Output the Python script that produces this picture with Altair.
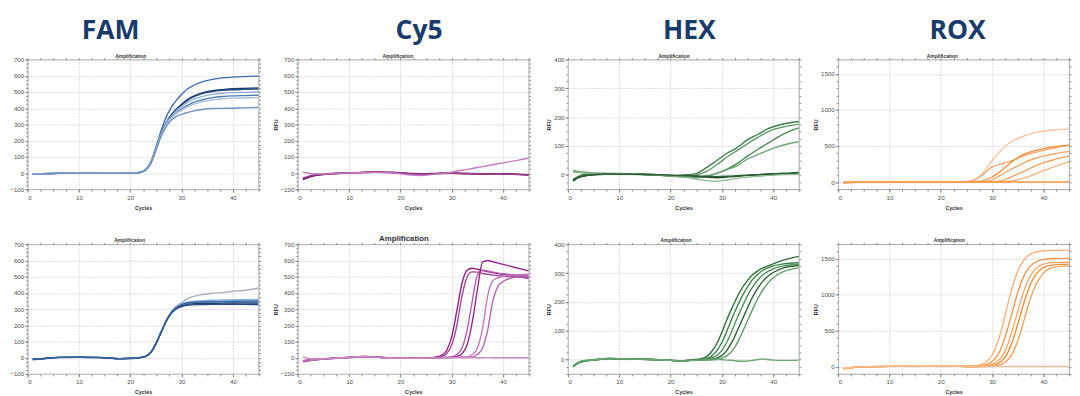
import altair as alt
import pandas as pd

# ---------------- data (RFU) ----------------
FAM_CYCLES = [1, 3, 6, 10, 14, 18, 21, 22, 23, 24, 25, 26, 27, 28, 29, 30, 31, 32, 34, 36, 38, 40, 42, 45]
FAM_TOP = [
    [-6, -4, -2, 0, 1, -2, 0, 6, 22, 70, 160, 260, 345, 405, 450, 485, 515, 535, 562, 578, 587, 592, 595, 598],
    [-8, -5, -2, 0, 2, -1, 1, 5, 20, 65, 150, 240, 310, 360, 395, 425, 450, 470, 495, 508, 515, 520, 522, 525],
    [-7, -4, -1, 1, 2, -2, 0, 5, 20, 62, 145, 235, 305, 355, 390, 420, 445, 465, 490, 503, 510, 514, 516, 518],
    [-5, -3, -1, 0, 1, -1, 1, 6, 22, 68, 150, 240, 305, 350, 385, 410, 432, 450, 472, 485, 492, 496, 498, 500],
    [-8, -5, -2, 0, 1, -2, 0, 4, 18, 60, 142, 230, 295, 340, 372, 395, 415, 432, 452, 465, 472, 476, 478, 480],
    [-6, -4, -2, 0, 1, -1, 0, 5, 20, 64, 148, 235, 298, 340, 368, 388, 405, 420, 440, 452, 458, 462, 463, 465],
    [-7, -5, -2, 0, 1, -2, 0, 5, 19, 60, 140, 225, 285, 325, 350, 362, 372, 380, 392, 398, 399, 400, 402, 405],
]
FAM_TOP_COLORS = ["#3d6ea8", "#1f3f73", "#24497f", "#8fb0d4", "#4f7bb3", "#a8c0dc", "#6f93c0"]

FAM_BOTTOM = [
    [-10, -5, 2, 3, 2, -5, -2, 2, 10, 35, 90, 160, 230, 285, 320, 340, 362, 375, 390, 398, 402, 410, 415, 430],
    [-8, -4, 3, 2, 1, -6, -3, 1, 9, 33, 88, 158, 228, 280, 312, 330, 342, 348, 352, 355, 356, 358, 358, 360],
    [-12, -6, 2, 3, 2, -5, -2, 2, 10, 34, 88, 157, 226, 278, 308, 325, 335, 340, 345, 347, 348, 350, 350, 352],
    [-10, -5, 2, 2, 1, -6, -3, 1, 8, 32, 85, 155, 225, 276, 305, 320, 328, 332, 335, 336, 337, 338, 338, 338],
    [-9, -5, 1, 3, 2, -5, -2, 1, 8, 32, 86, 156, 224, 274, 302, 316, 323, 326, 328, 329, 330, 330, 329, 328],
    [-11, -6, 2, 2, 1, -6, -3, 2, 9, 34, 87, 157, 227, 279, 310, 328, 338, 342, 344, 345, 345, 346, 345, 345],
]
FAM_BOTTOM_COLORS = ["#a9afc0", "#8db0d8", "#4f84c0", "#1d3f72", "#25487c", "#3a67a3"]

CY5_TOP_CYCLES = [1, 2, 3, 5, 8, 12, 15, 18, 20, 22, 24, 26, 28, 30, 33, 36, 40, 43, 45]
CY5_TOP = [
    [-40, -28, -18, -10, -3, 2, 5, 3, 0, -5, -8, -5, -2, 0, -3, -5, -5, -8, -10],
    [-35, -25, -15, -8, -2, 3, 6, 4, 2, -2, -5, -3, 0, -2, -5, -6, -4, -8, -12],
    [-30, -20, -12, -6, 0, 4, 8, 6, 3, -4, -10, -8, -3, -1, -2, -4, -6, -9, -12],
    [5, 0, -5, -6, -2, 2, 4, 2, -5, -12, -15, -10, -3, 6, 23, 40, 63, 80, 92],
]
CY5_TOP_COLORS = ["#6e145f", "#80186f", "#9a3a8e", "#c77ac0"]

CY5_BOTTOM_CYCLES = [1, 3, 6, 10, 13, 16, 20, 24, 26, 27, 28, 29, 30, 31, 32, 33, 34, 35, 36, 37, 38, 39, 40, 42, 45]
CY5_BOTTOM = [
    [-20, -12, -5, 2, 8, 3, -3, -2, 0, 5, 15, 45, 130, 290, 460, 540, 552, 546, 538, 532, 526, 520, 515, 505, 490],
    [-25, -14, -6, 1, 6, 2, -4, -3, -1, 2, 8, 25, 80, 200, 380, 500, 530, 528, 520, 515, 510, 506, 503, 500, 495],
    [-22, -13, -5, 2, 7, 2, -3, -4, -2, 0, 1, 3, 5, 20, 60, 170, 350, 510, 540, 535, 528, 522, 518, 512, 505],
    [-18, -10, -4, 3, 8, 3, -2, -3, -2, 0, 1, 2, 4, 8, 25, 80, 220, 420, 590, 600, 592, 584, 576, 560, 535],
    [-20, -12, -5, 2, 7, 2, -3, -3, -2, -1, 0, 1, 2, 3, 4, 5, 20, 60, 180, 380, 475, 492, 502, 510, 515],
    [-24, -14, -6, 1, 6, 2, -3, -3, -2, -1, 0, 0, 1, 2, 3, 4, 5, 20, 60, 170, 350, 440, 470, 495, 505],
    [5, -8, -5, 2, 6, 2, -3, -3, -2, -1, 0, 0, 0, 1, 0, 0, 1, 0, 0, 1, 0, 0, 0, 0, 0],
]
CY5_BOTTOM_COLORS = ["#8b1f80", "#a0439a", "#b55cae", "#92298a", "#c27abd", "#b466ad", "#c98bc4"]

HEX_TOP_CYCLES = [1, 2, 4, 7, 10, 14, 18, 21, 23, 25, 27, 29, 31, 33, 35, 37, 39, 41, 43, 45]
HEX_TOP = [
    [-20, -5, 3, 5, 4, 3, 0, -3, 0, 5, 25, 50, 75, 95, 122, 140, 160, 172, 180, 185],
    [15, 12, 8, 5, 5, 2, -2, -5, -3, 0, 12, 35, 62, 85, 108, 130, 150, 162, 170, 176],
    [-15, -8, 0, 3, 4, 2, -1, -5, -8, -10, -5, 5, 20, 40, 65, 88, 110, 132, 150, 163],
    [10, 8, 5, 4, 3, 1, -2, -5, -8, -10, -5, 5, 18, 32, 55, 70, 85, 98, 108, 115],
    [-22, -10, -2, 2, 3, 2, 0, -3, -2, -5, -8, -10, -8, -5, -2, 0, 2, 3, 4, 5],
    [12, 10, 6, 4, 4, 2, -1, -4, -8, -15, -20, -22, -18, -12, -8, -5, -2, 0, 2, 3],
    [-18, -8, -1, 3, 3, 2, 0, -2, -3, -4, -5, -6, -5, -3, -1, 1, 3, 5, 6, 8],
]
HEX_TOP_COLORS = ["#3f7f4a", "#5e9a66", "#4b8a55", "#6fa577", "#1d4a25", "#8abd8f", "#2a5e33"]

HEX_BOTTOM_CYCLES = [1, 2, 3, 5, 8, 12, 16, 20, 22, 24, 26, 27, 28, 29, 30, 31, 32, 33, 34, 35, 36, 37, 38, 39, 40, 42, 45]
HEX_BOTTOM = [
    [-25, -12, -6, -2, 3, 2, 0, -3, -5, -1, 3, 10, 28, 55, 95, 140, 180, 218, 250, 275, 295, 308, 318, 325, 332, 345, 358],
    [-24, -11, -5, -1, 4, 3, 1, -2, -5, -2, 0, 3, 12, 30, 60, 100, 145, 185, 222, 252, 278, 296, 310, 318, 325, 332, 336],
    [-26, -13, -7, -2, 3, 2, 0, -3, -6, -3, -1, 0, 5, 14, 32, 62, 102, 145, 185, 222, 252, 276, 294, 306, 315, 325, 330],
    [-23, -11, -5, -1, 4, 2, 0, -3, -5, -2, -1, 0, 1, 5, 14, 33, 62, 100, 140, 180, 218, 248, 272, 290, 302, 318, 326],
    [-25, -12, -6, -2, 3, 3, 1, -2, -5, -3, -1, 0, 0, 1, 5, 14, 30, 58, 95, 135, 175, 212, 242, 266, 284, 305, 318],
    [-22, -10, -4, 0, 4, 2, 0, -3, -6, -3, -2, -2, -1, 0, 0, -2, -3, -5, -6, -5, -3, 0, 2, 0, -2, -3, -2],
]
HEX_BOTTOM_COLORS = ["#2f6e3a", "#3d7f48", "#4f8f58", "#2a5f33", "#5f9d67", "#6aa872"]

ROX_TOP_CYCLES = [1, 5, 10, 15, 20, 24, 26, 28, 30, 32, 34, 36, 38, 40, 42, 44, 45]
ROX_TOP = [
    [-10, 0, 0, 0, 0, 2, 20, 110, 300, 460, 570, 635, 680, 705, 722, 732, 735],
    [-5, 0, 0, 0, 0, 1, 15, 90, 210, 255, 300, 360, 405, 440, 470, 500, 510],
    [-8, 0, 0, 0, 0, 0, 3, 15, 70, 170, 290, 380, 430, 465, 490, 505, 512],
    [-12, 0, 0, 0, 0, 0, 0, 3, 30, 110, 185, 260, 320, 360, 390, 415, 425],
    [-6, 0, 0, 0, 0, 0, 0, 0, 5, 20, 80, 140, 210, 265, 310, 345, 360],
    [-9, 0, 0, 0, 0, 0, 0, 0, 0, 3, 15, 50, 100, 160, 210, 260, 285],
    [-5, 0, 0, 0, 0, 0, 0, 0, 0, 0, 0, 0, 0, 0, 0, 0, 0],
]
ROX_TOP_COLORS = ["#f8c49c", "#f3a66a", "#ee9447", "#f2a765", "#f0a35c", "#f4b47e", "#f39b4a"]

ROX_BOTTOM_CYCLES = [1, 3, 6, 10, 15, 20, 24, 26, 27, 28, 29, 30, 31, 32, 33, 34, 35, 36, 37, 38, 39, 40, 42, 45]
ROX_BOTTOM = [
    [-30, -10, 0, 5, 5, 5, 5, 5, 15, 35, 80, 160, 320, 560, 850, 1120, 1330, 1460, 1540, 1580, 1600, 1610, 1615, 1615],
    [-25, -8, 0, 5, 5, 5, 5, 3, 5, 15, 35, 75, 150, 300, 520, 780, 1030, 1230, 1360, 1430, 1470, 1490, 1502, 1505],
    [-28, -9, 0, 5, 5, 5, 5, 3, 3, 5, 15, 35, 75, 150, 300, 520, 770, 1010, 1200, 1320, 1390, 1425, 1445, 1450],
    [-22, -7, 0, 5, 5, 5, 5, 3, 3, 3, 5, 15, 40, 90, 190, 360, 590, 840, 1060, 1220, 1320, 1375, 1415, 1425],
    [-26, -9, 0, 5, 5, 5, 5, 3, 3, 3, 3, 5, 15, 40, 90, 190, 360, 590, 840, 1050, 1200, 1300, 1380, 1400],
    [-20, -6, 0, 5, 5, 5, 5, 5, 5, 5, 5, 5, 5, 5, 5, 5, 5, 5, 5, 5, 5, 5, 5, 5],
]
ROX_BOTTOM_COLORS = ["#f5b27a", "#f19a52", "#f4ac6e", "#ee9040", "#f3a25c", "#f6bd8e"]

X_MAJOR = [0, 10, 20, 30, 40]
X_MINOR = [i * 2.5 for i in range(19)]
Y_700_MAJOR = [-100, 0, 100, 200, 300, 400, 500, 600, 700]
Y_700_MINOR = [-100 + 25 * i for i in range(33)]
Y_400_MAJOR = [0, 100, 200, 300, 400]
Y_400_MINOR = [-50 + 25 * i for i in range(19)]
Y_1700_MAJOR = [0, 500, 1000, 1500]
Y_1700_MINOR = [-100 + 100 * i for i in range(19)]

W, H = 235, 132
LABEL_FONT = "Liberation Sans"
TICK_COLOR = "#8a8a8a"
TEXT_GRAY = "#505050"


def make_panel(key, cycles, curves, colors, ydomain, ymajor, yminor, rfu,
               amp_size, amp_dx, big=None, big_dx=0):
    names = ["%s%02d" % (key, i + 1) for i in range(len(curves))]
    rows = []
    for name, curve in zip(names, curves):
        for c, v in zip(cycles, curve):
            rows.append({"cycle": c, "rfu": v, "well": name})
    df = pd.DataFrame(rows)
    xs = alt.Scale(domain=[0, 45], nice=False, zero=False)
    ys = alt.Scale(domain=ydomain, nice=False, zero=False)
    base = alt.Chart(df)

    y_kw = dict(values=ymajor, format="d", grid=True, gridColor="#d2d2d2", gridDash=[2, 1], gridWidth=0.8,
                domain=False, tickSize=3, tickColor=TICK_COLOR, labelFontSize=6.3,
                labelColor=TEXT_GRAY, labelFont=LABEL_FONT, labelPadding=1, orient="left")
    if rfu:
        y_kw.update(title="RFU", titleFontSize=5.5, titleFontWeight="bold", titleColor="#333333",
                    titleFont=LABEL_FONT, titlePadding=2)
    else:
        y_kw.update(title=None)
    x_kw = dict(values=X_MAJOR, format="d", grid=True, gridColor="#d2d2d2", gridDash=[2, 1], gridWidth=0.8,
                domain=False, tickSize=3, tickColor=TICK_COLOR, labelFontSize=6.3,
                labelColor=TEXT_GRAY, labelFont=LABEL_FONT, labelPadding=2, orient="bottom",
                title="Cycles", titleFontSize=5.5, titleFontWeight="bold", titleColor="#333333",
                titleFont=LABEL_FONT, titlePadding=5)

    lines = base.mark_line(strokeWidth=1.4, interpolate="monotone", clip=True).encode(
        x=alt.X("cycle:Q", scale=xs, axis=alt.Axis(**x_kw)),
        y=alt.Y("rfu:Q", scale=ys, axis=alt.Axis(**y_kw)),
        color=alt.Color("well:N", scale=alt.Scale(domain=names, range=colors), legend=None),
    )
    minor_lb = base.mark_line(strokeOpacity=0).encode(
        x=alt.X("cycle:Q", scale=xs, axis=alt.Axis(values=X_MINOR, orient="bottom", labels=False, grid=False,
                                                   domain=False, tickSize=2, tickColor=TICK_COLOR, title=None)),
        y=alt.Y("rfu:Q", scale=ys, axis=alt.Axis(values=yminor, orient="left", labels=False, grid=False,
                                                 domain=False, tickSize=2, tickColor=TICK_COLOR, title=None)),
        detail="well:N",
    )
    top_kw = dict(values=X_MINOR, orient="top", labels=False, grid=False, domain=False, tickSize=2,
                  tickColor=TICK_COLOR, title="Amplification", titleFontSize=amp_size,
                  titleFontWeight="bold", titleColor="#333333", titleFont=LABEL_FONT,
                  titleX=W / 2 + amp_dx, titleY=-2 - amp_size / 2, titleAlign="center",
                  titleBaseline="middle", titleAngle=0)
    minor_tr = base.mark_line(strokeOpacity=0).encode(
        x=alt.X("cycle:Q", scale=xs, axis=alt.Axis(**top_kw)),
        y=alt.Y("rfu:Q", scale=ys, axis=alt.Axis(values=yminor, orient="right", labels=False, grid=False,
                                                 domain=False, tickSize=2, tickColor=TICK_COLOR, title=None)),
        detail="well:N",
    )
    layer = alt.layer(lines, minor_lb, minor_tr).resolve_axis(x="independent", y="independent")
    props = dict(width=W, height=H)
    if big is not None:
        props["title"] = alt.TitleParams(text=big, fontSize=27, font="Open Sans", fontWeight="bold",
                                         color="#173b6a", anchor="middle", dx=big_dx, offset=8)
    return layer.properties(**props)


panels = [
    make_panel("famT", FAM_CYCLES, FAM_TOP, FAM_TOP_COLORS, [-100, 700], Y_700_MAJOR, Y_700_MINOR, False, 5, -13, "FAM", -33),
    make_panel("cy5T", CY5_TOP_CYCLES, CY5_TOP, CY5_TOP_COLORS, [-100, 700], Y_700_MAJOR, Y_700_MINOR, True, 5, -16, "Cy5", 6),
    make_panel("hexT", HEX_TOP_CYCLES, HEX_TOP, HEX_TOP_COLORS, [-50, 400], Y_400_MAJOR, Y_400_MINOR, True, 5, -10, "HEX", 6),
    make_panel("roxT", ROX_TOP_CYCLES, ROX_TOP, ROX_TOP_COLORS, [-100, 1700], Y_1700_MAJOR, Y_1700_MINOR, True, 5, -12, "ROX", 4),
    make_panel("famB", FAM_CYCLES, FAM_BOTTOM, FAM_BOTTOM_COLORS, [-100, 700], Y_700_MAJOR, Y_700_MINOR, False, 5, -14),
    make_panel("cy5B", CY5_BOTTOM_CYCLES, CY5_BOTTOM, CY5_BOTTOM_COLORS, [-100, 700], Y_700_MAJOR, Y_700_MINOR, True, 8, -10),
    make_panel("hexB", HEX_BOTTOM_CYCLES, HEX_BOTTOM, HEX_BOTTOM_COLORS, [-50, 400], Y_400_MAJOR, Y_400_MINOR, True, 5, -8),
    make_panel("roxB", ROX_BOTTOM_CYCLES, ROX_BOTTOM, ROX_BOTTOM_COLORS, [-100, 1700], Y_1700_MAJOR, Y_1700_MINOR, True, 5, -5),
]

chart = alt.concat(
    *panels, columns=4, spacing={"row": 56, "column": 40}, bounds="flush"
).resolve_scale(
    color="independent"
).properties(
    padding={"left": 1, "top": 6, "right": 0, "bottom": 0}
).configure_view(
    stroke="#8c8c8c", strokeWidth=0.8, fill="white"
)

chart.save("out.html", embed_options={"renderer": "svg", "actions": False})
